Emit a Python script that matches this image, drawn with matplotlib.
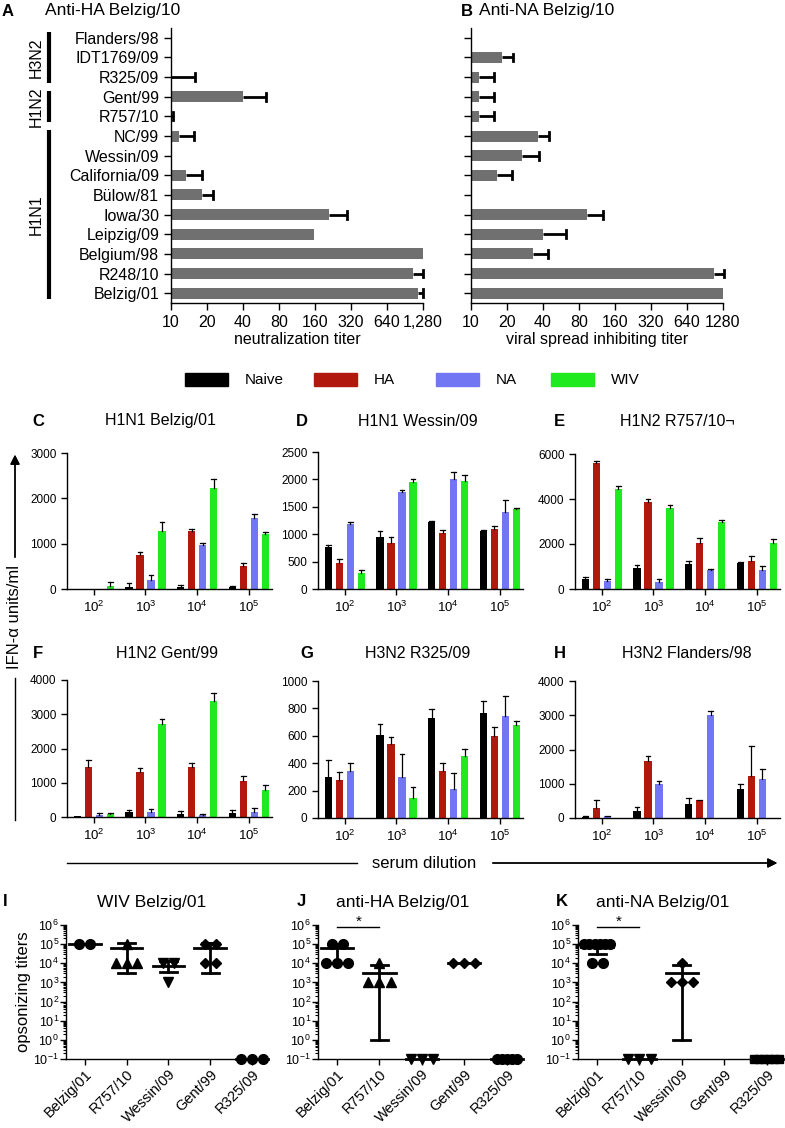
import numpy as np
import matplotlib
matplotlib.use('Agg')
import matplotlib.pyplot as plt
import matplotlib.ticker as mticker
import matplotlib.transforms as mtransforms
from matplotlib.lines import Line2D
from matplotlib.patches import Rectangle

plt.rcParams['font.family'] = ['Liberation Sans', 'DejaVu Sans']
plt.rcParams['mathtext.fontset'] = 'custom'
plt.rcParams['mathtext.rm'] = 'Liberation Sans'
plt.rcParams['axes.linewidth'] = 1.0

W, H = 785, 1128
nan = np.nan

# ---- panels A / B: titers per strain (top to bottom)
strains = ['Flanders/98', 'IDT1769/09', 'R325/09', 'Gent/99', 'R757/10', 'NC/99', 'Wessin/09',
           'California/09', 'Bülow/81', 'Iowa/30', 'Leipzig/09', 'Belgium/98', 'R248/10', 'Belzig/01']
ha_titer = [nan, nan, 10, 40, 10, 11.7, nan, 13.3, 18.3, 210, 158, 1280, 1054, 1160]
ha_top = [nan, nan, 16, 62, 10.3, 15.6, nan, 18.3, 22.4, 296, 158, 1280, 1280, 1280]
na_titer = [nan, 18.2, 11.6, 11.6, 11.6, 36.3, 26.5, 16.5, nan, 93, 40, 33, 1077, 1280]
na_top = [nan, 22.3, 15.6, 15.6, 15.6, 45.2, 37, 22, nan, 127, 62, 44, 1300, 1280]
titer_ticks = [10, 20, 40, 80, 160, 320, 640, 1280]
ha_ticklabels = ['10', '20', '40', '80', '160', '320', '640', '1,280']
na_ticklabels = ['10', '20', '40', '80', '160', '320', '640', '1280']
subtypes = ['H3N2', 'H1N2', 'H1N1']
subtype_rows = [(0, 2), (3, 4), (5, 13)]

# ---- panels C-H: IFN-alpha, rows = Naive, HA, NA, WIV ; cols = 10^2..10^5
groups = ['Naive', 'HA', 'NA', 'WIV']
group_colors = ['#000000', '#b0190b', '#7376f2', '#1fe91f']
dil_labels = ['$10^2$', '$10^3$', '$10^4$', '$10^5$']

c_mean = [[5, 55, 40, 40], [0, 750, 1270, 500], [0, 200, 970, 1570], [70, 1290, 2230, 1220]]
c_top = [[5, 140, 80, 60], [0, 820, 1330, 570], [0, 300, 1020, 1650], [150, 1480, 2420, 1260]]
d_mean = [[770, 950, 1220, 1050], [480, 840, 1020, 1100], [1190, 1770, 2010, 1400], [300, 1955, 1970, 1460]]
d_top = [[810, 1060, 1250, 1085], [550, 940, 1080, 1155], [1225, 1810, 2130, 1630], [350, 2010, 2075, 1475]]
e_mean = [[440, 950, 1095, 1140], [5590, 3880, 2045, 1240], [340, 310, 850, 850], [4450, 3590, 2965, 2060]]
e_top = [[555, 1065, 1240, 1210], [5690, 3985, 2280, 1445], [440, 455, 875, 1005], [4570, 3720, 3080, 2235]]
f_mean = [[20, 135, 85, 105], [1455, 1300, 1455, 1060], [65, 145, 65, 145], [85, 2710, 3390, 795]]
f_top = [[20, 215, 165, 195], [1670, 1430, 1575, 1185], [115, 235, 85, 260], [115, 2855, 3610, 920]]
g_mean = [[298, 607, 727, 766], [276, 541, 344, 595], [344, 302, 212, 746], [0, 144, 454, 678]]
g_top = [[420, 688, 793, 854], [339, 590, 400, 663], [400, 468, 327, 888], [0, 229, 505, 707]]
h_mean = [[40, 215, 415, 835], [290, 1655, 515, 1220], [55, 1000, 3020, 1150], [0, 0, 0, 0]]
h_top = [[60, 330, 570, 1000], [540, 1820, 540, 2100], [65, 1075, 3125, 1440], [0, 0, 0, 0]]

# ---- panels I-K: opsonizing titers, points given as (value, count)
opso_names = ['Belzig/01', 'R757/10', 'Wessin/09', 'Gent/99', 'R325/09']
wiv_points = [[(1e5, 2)], [(1e5, 1), (1e4, 3)], [(1e4, 2), (1e3, 1)], [(1e5, 2), (1e4, 2)], [(0.1, 3)]]
wiv_mean = [1e5, 6e4, 7.5e3, 6e4, 0.1]
wiv_low = [1e5, 3e3, 3.5e3, 3e3, 0.1]
wiv_high = [1e5, 1.1e5, 1.3e4, 1.1e5, 0.1]
wiv_markers = ['o', '^', 'v', 'D', 'o']

ha_points = [[(1e5, 2), (1e4, 3)], [(1e4, 1), (1e3, 3)], [(0.1, 3)], [(1e4, 3)], [(0.1, 5)]]
ha_mean = [6e4, 3.3e3, 0.1, 1e4, 0.1]
ha_low = [1e4, 1, 0.1, 1e4, 0.1]
ha_high = [1e5, 8e3, 0.1, 1e4, 0.1]
ha_markers = ['o', '^', 'v', 'D', 'o']

na_points = [[(1e5, 6), (1e4, 2)], [(0.1, 3)], [(1e4, 1), (1e3, 3)], [], [(0.1, 6)]]
na_mean = [7.5e4, 0.1, 3.3e3, nan, 0.1]
na_low = [3.2e4, 0.1, 1, nan, 0.1]
na_high = [1e5, 0.1, 8e3, nan, 0.1]
na_markers = ['o', 'v', 'D', 'D', 's']

fig = plt.figure(figsize=(W / 100, H / 100), dpi=100)


def px_axes(x0, y0, x1, y1):
    return fig.add_axes([x0 / W, 1 - y1 / H, (x1 - x0) / W, (y1 - y0) / H])


def ftext(x, y, s, **kw):
    fig.text(x / W, 1 - y / H, s, **kw)


def clean(ax):
    ax.spines['top'].set_visible(False)
    ax.spines['right'].set_visible(False)
    ax.tick_params(direction='out', width=1, color='black')


def titer_panel(ax, vals, tops, ticklabels, show_names):
    pos = np.arange(len(strains))
    for p, v, t in zip(pos, vals, tops):
        if np.isnan(v):
            continue
        if v > 10:
            ax.barh(p, v - 10, left=10, height=0.56, color='#707070', zorder=2)
        if t > v:
            ax.plot([v, t], [p, p], color='black', lw=2, solid_capstyle='butt', clip_on=False, zorder=3)
            ax.plot([t, t], [p - 0.2, p + 0.2], color='black', lw=2, clip_on=False, zorder=3)
    ax.set_xscale('log', base=2)
    ax.set_xlim(10, 1280)
    ax.set_ylim(13.5, -0.5)
    ax.set_yticks(pos)
    ax.set_yticklabels(strains if show_names else [])
    ax.set_xticks(titer_ticks)
    ax.set_xticklabels(ticklabels)
    ax.xaxis.set_minor_locator(mticker.NullLocator())
    clean(ax)
    ax.tick_params(labelsize=11.5, length=5)


def dilution_panel(ax, means, tops, ymax, ystep):
    offsets = [-0.32, -0.107, 0.107, 0.32]
    x = np.arange(len(dil_labels))
    for k in range(len(groups)):
        xs = x + offsets[k]
        ax.bar(xs, means[k], width=0.14, color=group_colors[k], zorder=2)
        for xi, m, t in zip(xs, means[k], tops[k]):
            if t > m:
                ax.plot([xi, xi], [m, t], color='black', lw=0.9, zorder=3)
                ax.plot([xi - 0.045, xi + 0.045], [t, t], color='black', lw=0.9, zorder=3)
    ax.set_xlim(-0.52, 3.45)
    ax.set_ylim(0, ymax)
    ax.set_yticks(np.arange(0, ymax + 1, ystep))
    ax.set_xticks(x)
    ax.set_xticklabels(dil_labels)
    clean(ax)
    ax.tick_params(axis='y', labelsize=8.5, length=4)
    ax.tick_params(axis='x', labelsize=9.5, length=4)


def opso_panel(ax, points, means, lows, highs, markers):
    sizes = {'o': 7, '^': 7, 'v': 7, 'D': 5, 's': 6}
    for i, (pts, mk) in enumerate(zip(points, markers)):
        for val, n in pts:
            step = 0.26 if n <= 3 else 0.12
            xs = i + (np.arange(n) - (n - 1) / 2) * step
            ax.plot(xs, [val] * n, ls='none', marker=mk, ms=sizes[mk], color='black',
                    clip_on=False, zorder=3)
        if np.isnan(means[i]):
            continue
        ax.plot([i - 0.38, i + 0.38], [means[i]] * 2, color='black', lw=2, clip_on=False, zorder=4)
        if highs[i] > lows[i]:
            ax.plot([i, i], [lows[i], highs[i]], color='black', lw=2, clip_on=False, zorder=4)
            ax.plot([i - 0.2, i + 0.2], [lows[i]] * 2, color='black', lw=2, clip_on=False, zorder=4)
            ax.plot([i - 0.2, i + 0.2], [highs[i]] * 2, color='black', lw=2, clip_on=False, zorder=4)
    ax.set_yscale('log')
    ax.set_ylim(0.1, 1e6)
    ax.yaxis.set_major_locator(mticker.LogLocator(base=10, numticks=12))
    ax.yaxis.set_minor_locator(mticker.LogLocator(base=10, subs=np.arange(2, 10), numticks=12))
    ax.yaxis.set_major_formatter(mticker.LogFormatterMathtext())
    ax.yaxis.set_minor_formatter(mticker.NullFormatter())
    ax.set_xlim(-0.45, 4.36)
    ax.set_xticks(np.arange(len(opso_names)))
    ax.set_xticklabels(opso_names, rotation=45, ha='right', rotation_mode='anchor', fontsize=10.5)
    clean(ax)
    ax.tick_params(axis='y', which='major', labelsize=9, length=4, pad=1)
    ax.tick_params(axis='y', which='minor', length=2.5, width=0.8)
    ax.tick_params(axis='x', length=4, pad=2)


# ---------- A and B
axA = px_axes(171, 28, 423, 303)
titer_panel(axA, ha_titer, ha_top, ha_ticklabels, True)
trans = mtransforms.blended_transform_factory(axA.transAxes, axA.transData)
for name, (r0, r1) in zip(subtypes, subtype_rows):
    axA.plot([-0.484, -0.484], [r0 - 0.3, r1 + 0.3], transform=trans, color='black', lw=3,
             clip_on=False, solid_capstyle='butt')
    axA.text(-0.535, (r0 + r1) / 2, name, transform=trans, rotation=90, ha='center', va='center',
             fontsize=11.5)
axB = px_axes(471, 28, 723, 303)
titer_panel(axB, na_titer, na_top, na_ticklabels, False)

ftext(8, 11, 'A', fontsize=12, fontweight='bold', ha='center', va='center')
ftext(45, 11, 'Anti-HA Belzig/10', fontsize=12.5, ha='left', va='center')
ftext(467, 11, 'B', fontsize=12, fontweight='bold', ha='center', va='center')
ftext(479, 11, 'Anti-NA Belzig/10', fontsize=12.5, ha='left', va='center')
ftext(297, 340, 'neutralization titer', fontsize=11.5, ha='center', va='center')
ftext(597, 340, 'viral spread inhibiting titer', fontsize=11.5, ha='center', va='center')

# ---------- legend
leg_x = [185, 314, 436, 551]
for gx, name, col in zip(leg_x, groups, group_colors):
    fig.patches.append(Rectangle((gx / W, 1 - 386 / H), 43 / W, 13 / H, color=col,
                                 transform=fig.transFigure, figure=fig))
    ftext(gx + 60, 380, name, fontsize=11, ha='left', va='center')

# ---------- C-H
panels = [
    ('C', 'H1N1 Belzig/01', (67, 453, 272, 589), c_mean, c_top, 3000, 1000, 160, 421),
    ('D', 'H1N1 Wessin/09', (318, 452, 523, 589), d_mean, d_top, 2500, 500, 418, 421),
    ('E', 'H1N2 R757/10¬', (575, 454, 780, 589), e_mean, e_top, 6000, 2000, 677, 421),
    ('F', 'H1N2 Gent/99', (67, 680, 272, 817), f_mean, f_top, 4000, 1000, 167, 654),
    ('G', 'H3N2 R325/09', (318, 681, 523, 818), g_mean, g_top, 1000, 200, 418, 654),
    ('H', 'H3N2 Flanders/98', (575, 681, 780, 818), h_mean, h_top, 4000, 1000, 687, 654),
]
letter_x = {'C': 38, 'D': 302, 'E': 559, 'F': 38, 'G': 307, 'H': 560}
for letter, title, box, means, tops, ymax, ystep, tx, ty in panels:
    ax = px_axes(*box)
    dilution_panel(ax, means, tops, ymax, ystep)
    ftext(letter_x[letter], ty, letter, fontsize=12, fontweight='bold', ha='center', va='center')
    ftext(tx, ty, title, fontsize=11.5, ha='center', va='center')

# y label with arrow
ftext(15, 617, 'IFN-α units/ml', fontsize=12, rotation=90, ha='center', va='center')
fig.add_artist(Line2D([15 / W, 15 / W], [1 - 820 / H, 1 - 678 / H], color='black', lw=1))
fig.add_artist(plt.annotate('', xy=(15 / W, 1 - 452 / H), xytext=(15 / W, 1 - 560 / H),
                            xycoords='figure fraction', textcoords='figure fraction',
                            arrowprops=dict(arrowstyle='-|>', color='black', lw=1,
                                            mutation_scale=14)))
# x label with arrow
fig.add_artist(Line2D([67 / W, 357 / W], [1 - 863 / H, 1 - 863 / H], color='black', lw=1))
ftext(424, 863, 'serum dilution', fontsize=12, ha='center', va='center')
fig.add_artist(plt.annotate('', xy=(780 / W, 1 - 863 / H), xytext=(490 / W, 1 - 863 / H),
                            xycoords='figure fraction', textcoords='figure fraction',
                            arrowprops=dict(arrowstyle='-|>', color='black', lw=1,
                                            mutation_scale=14)))

# ---------- I-K
axI = px_axes(66, 925, 267, 1059)
opso_panel(axI, wiv_points, wiv_mean, wiv_low, wiv_high, wiv_markers)
axI.set_ylabel('opsonizing titers', fontsize=12, labelpad=2)
axJ = px_axes(318, 925, 522, 1059)
opso_panel(axJ, ha_points, ha_mean, ha_low, ha_high, ha_markers)
axJ.plot([0, 1], [7.8e5, 7.8e5], color='black', lw=1, clip_on=False)
axJ.text(0.5, 1.4e6, '*', ha='center', va='center', fontsize=11)
axK = px_axes(578, 925, 782, 1059)
opso_panel(axK, na_points, na_mean, na_low, na_high, na_markers)
axK.plot([0, 1], [7.8e5, 7.8e5], color='black', lw=1, clip_on=False)
axK.text(0.5, 1.4e6, '*', ha='center', va='center', fontsize=11)

ftext(5, 902, 'I', fontsize=12, fontweight='bold', ha='center', va='center')
ftext(152, 903, 'WIV Belzig/01', fontsize=12.5, ha='center', va='center')
ftext(301, 902, 'J', fontsize=12, fontweight='bold', ha='center', va='center')
ftext(403, 903, 'anti-HA Belzig/01', fontsize=12.5, ha='center', va='center')
ftext(562, 902, 'K', fontsize=12, fontweight='bold', ha='center', va='center')
ftext(663, 903, 'anti-NA Belzig/01', fontsize=12.5, ha='center', va='center')

fig.savefig('out.png', dpi=100)
